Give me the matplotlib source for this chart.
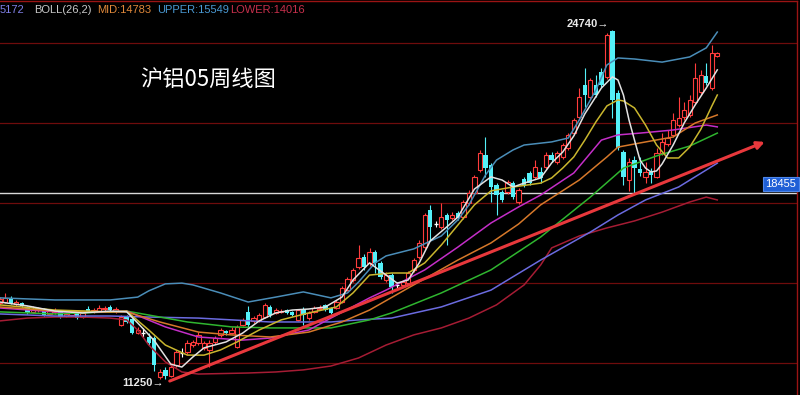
import matplotlib
matplotlib.use('Agg')
import matplotlib.pyplot as plt
import numpy as np

# weekly candles
opens = [14200, 14240, 14400, 14160, 14200, 14010, 13860, 13930, 13930, 13780,
         13860, 13860, 13700, 13740, 13820, 13660, 13970, 13860, 13890, 13970,
         14050, 13890, 13350, 13660, 13590, 13040, 13060, 12890, 12850, 11350,
         11620, 11380, 11810, 12290, 12310, 12580, 12660, 12470, 12390, 12700,
         12970, 13120, 13040, 12500, 13350, 13860, 13510, 13510, 13660, 14050,
         13820, 13860, 13930, 13860, 13550, 13970, 13620, 13860, 13970, 14130,
         14010, 14010, 14240, 14700, 15090, 15590, 15980, 15750, 16170, 15750,
         15090, 15280, 14880, 14900, 14970, 15480, 15980, 16360, 17790, 17250,
         17140, 17600, 17480, 17680, 17520, 18060, 18450, 19340, 19920, 19530,
         18760, 18490, 18490, 18830, 18100, 18990, 19220, 19070, 19260, 19450,
         19920, 19650, 19840, 20190, 20760, 21380, 22620, 22150, 22620, 23120,
         22930, 24700, 22310, 20030, 18950, 19720, 19380, 19070, 19260, 19070,
         19990, 20340, 20690, 21070, 21380, 21460, 21960, 22350, 22960, 22500,
         23740]
closes = [14360, 14400, 14200, 14240, 14090, 13820, 13970, 13970, 13740, 13890,
          13890, 13660, 13780, 13820, 13620, 13820, 13890, 13930, 14010, 14010,
          13930, 13970, 13660, 13470, 13040, 13160, 13060, 12660, 11810, 11540,
          11380, 11730, 12310, 12290, 12660, 12700, 12970, 12660, 12660, 12850,
          13160, 13040, 13160, 13280, 13550, 13350, 13620, 13740, 14130, 13740,
          13930, 13890, 13820, 13740, 13930, 13740, 13820, 14010, 14010, 13930,
          13820, 14240, 14780, 15130, 15480, 15940, 15590, 16170, 15750, 15210,
          15280, 14820, 14880, 15010, 15360, 15860, 16520, 17600, 17140, 17250,
          17520, 17410, 17600, 17480, 18100, 18450, 19070, 19990, 19410, 18680,
          18370, 18180, 18870, 18290, 18560, 18760, 18830, 19450, 19030, 19920,
          19720, 19990, 20300, 20690, 21270, 22150, 22230, 22810, 22230, 22620,
          24550, 22040, 20190, 19070, 19650, 19410, 19220, 19260, 19140, 19990,
          20420, 20570, 21270, 21340, 21650, 22040, 22890, 23000, 22690, 23850,
          23850]
highs = [14430, 14590, 14470, 14320, 14240, 14090, 14090, 14050, 14010, 13970,
         14010, 13890, 13860, 13890, 13860, 13890, 14090, 14010, 14130, 14090,
         14130, 14050, 13740, 13740, 13620, 13280, 13240, 13040, 12930, 11660,
         11730, 11810, 12390, 12470, 12770, 12770, 13080, 12740, 12770, 12930,
         13240, 13160, 13280, 13350, 13620, 14090, 13700, 13820, 14200, 14130,
         14010, 13970, 13970, 13890, 13970, 14050, 13890, 14090, 14130, 14160,
         14050, 14320, 14860, 15210, 15550, 16440, 16090, 16330, 16250, 15820,
         15400, 15360, 15010, 15090, 15440, 15940, 16630, 17680, 17990, 17370,
         18060, 17680, 17710, 17750, 18180, 18560, 19140, 20110, 20610, 19610,
         18830, 18560, 18950, 18910, 18640, 19070, 19300, 19720, 19450, 20030,
         20030, 20070, 20380, 20760, 21340, 22500, 23270, 22890, 23000, 23270,
         24620, 24740, 22420, 20110, 19800, 19880, 19840, 19650, 19410, 20190,
         20760, 20880, 21540, 22150, 21960, 22230, 23470, 23200, 23470, 24160,
         23890]
lows = [14130, 14200, 14160, 14090, 14050, 13780, 13820, 13860, 13700, 13740,
        13780, 13620, 13660, 13700, 13590, 13620, 13860, 13820, 13860, 13890,
        13890, 13820, 13310, 13430, 13010, 13010, 12890, 12580, 11580, 11270,
        11250, 11350, 11730, 12120, 12230, 12500, 12580, 12390, 11730, 12620,
        12890, 12970, 13010, 12470, 13310, 13280, 13430, 13470, 13620, 13660,
        13780, 13820, 13780, 13700, 13510, 13350, 13550, 13820, 13930, 13890,
        13780, 13970, 14200, 14670, 15010, 15510, 15480, 15630, 15360, 15130,
        15010, 14590, 14780, 14820, 14900, 15400, 15900, 16290, 16630, 17140,
        17060, 16440, 17410, 17410, 17440, 17990, 18370, 19260, 19070, 18100,
        17600, 18100, 18410, 18220, 18020, 18680, 18760, 18990, 18830, 19380,
        19650, 19570, 19760, 20110, 20690, 21300, 21770, 22080, 22150, 22540,
        22850, 21340, 20110, 18760, 18530, 18450, 19100, 18830, 18830, 19030,
        19920, 20260, 20610, 21000, 21270, 21380, 21880, 22230, 22620, 22420,
        23700]

# indicator lines, sampled at candle positions
ma5_i = [0, 5, 10, 15, 20, 23, 25, 28, 31, 33, 35, 37, 41, 44, 47, 50, 53, 56, 59, 62,
         64, 67, 70, 72, 74, 76, 78, 81, 83, 86, 89, 91, 93, 95, 98, 100, 102, 104, 106, 109,
         111, 112, 113, 114, 115, 116, 117, 118, 119, 120, 122, 124, 126, 128, 130]
ma5_v = [14240, 14090, 13890, 13820, 13890, 13860, 13430, 12750, 11840, 11730,
         12120, 12470, 12700, 13040, 13510, 13820, 13930, 13970, 14050, 14430,
         15090, 15750, 15280, 14970, 15090, 15750, 16600, 17140, 17520, 18600,
         19070, 18950, 18680, 18830, 19030, 19610, 20030, 20650, 21500, 22500,
         22930, 22810, 22230, 21270, 20490, 19720, 19410, 19260, 19300, 19570,
         20300, 21150, 21850, 22500, 23200]
ma10_i = [0, 10, 20, 23, 27, 30, 34, 37, 40, 43, 47, 51, 56, 61, 64, 67, 71, 74, 77, 80,
          83, 86, 89, 93, 98, 100, 102, 104, 106, 108, 110, 112, 113, 115, 117, 119, 121, 123,
          125, 127, 129, 130]
ma10_v = [14130, 13930, 13860, 13890, 13160, 12580, 12190, 12190, 12390, 12700,
          13160, 13550, 13820, 14050, 14590, 15280, 15360, 15360, 15750, 16440,
          17210, 17990, 18530, 18680, 18830, 19030, 19410, 19840, 20490, 21190,
          21810, 22040, 22000, 21730, 21070, 20300, 19800, 19800, 20220, 20900,
          21800, 22230]
mid_i = [0, 10, 20, 23, 29, 36, 42, 49, 56, 62, 67, 74, 83, 89, 94, 98, 105, 110, 112,
         116, 122, 126, 130]
mid_v = [14050, 13890, 13860, 13860, 13470, 13080, 12970, 12890, 13080, 13470,
         13930, 14780, 15860, 16520, 17250, 17990, 18950, 19840, 20220, 20380,
         20610, 21150, 21460]
ma30_i = [0, 10, 20, 23, 30, 36, 44, 49, 56, 60, 67, 70, 77, 83, 89, 94, 98, 104, 109,
          112, 116, 122, 128, 130]
ma30_v = [14010, 13860, 13860, 13890, 13280, 12890, 12770, 12850, 13160, 13620,
          14400, 14700, 15480, 16360, 17290, 17910, 18370, 19220, 20490, 20690,
          20760, 20880, 21070, 21000]
ma60_i = [0, 10, 20, 23, 34, 42, 49, 60, 67, 71, 80, 89, 98, 107, 113, 119, 125, 130]
ma60_v = [13860, 13780, 13860, 13890, 13470, 13280, 13240, 13240, 13550, 13820,
          14590, 15480, 16750, 18290, 19410, 19880, 20260, 20760]
ma120_i = [0, 10, 20, 27, 36, 49, 60, 65, 71, 80, 89, 98, 107, 112, 117, 123, 130]
ma120_v = [13780, 13700, 13700, 13660, 13620, 13470, 13470, 13550, 13620, 14050,
           14700, 15860, 16940, 17600, 18180, 18680, 19600]
upper_i = [0, 5, 10, 15, 20, 25, 27, 30, 33, 35, 40, 45, 50, 55, 60, 63, 65, 68, 70, 75,
           80, 83, 85, 88, 90, 93, 95, 100, 103, 105, 108, 110, 112, 115, 120, 125, 128, 130]
upper_v = [14400, 14360, 14320, 14320, 14320, 14430, 14670, 14940, 14970, 14900,
           14590, 14240, 14430, 14630, 14400, 14590, 15010, 15750, 16020, 16290,
           16790, 17410, 17990, 19140, 19720, 20110, 20300, 20420, 20570, 21270,
           22420, 23390, 23660, 23620, 23500, 23700, 24050, 24660]
lower_i = [0, 5, 10, 15, 20, 23, 25, 27, 30, 33, 36, 45, 50, 55, 60, 65, 70, 75, 80, 85,
           90, 95, 98, 100, 105, 110, 115, 120, 125, 128, 130]
lower_v = [13510, 13620, 13660, 13660, 13620, 13550, 13160, 12580, 11930, 11540,
           11460, 11500, 11540, 11620, 11770, 12080, 12580, 12970, 13240, 13620,
           14130, 14900, 15670, 16330, 16790, 17100, 17370, 17710, 18100, 18290,
           18180]

grid_levels = [24240, 21150, 18060, 14970, 11890]
last_price = 18455
trend_x = [30.8, 138.6]
trend_y = [11190, 20420]

RED = '#ff3c3c'
CYAN = '#54f0f8'

fig = plt.figure(figsize=(8, 3.95), dpi=100, facecolor='black')
ax = fig.add_axes([0, 0, 797 / 800, 394 / 395])
ax.set_facecolor('black')

o = np.array(opens)
c = np.array(closes)
h = np.array(highs)
l = np.array(lows)
idx = np.arange(len(o))
up = c > o
dn = c < o
fl = c == o

for lv in grid_levels:
    ax.axhline(lv, color='#6e0c0c', lw=0.9, zorder=1)
ax.axhline(last_price, color='#d8d8d8', lw=1.0, zorder=1)

ax.vlines(idx[up], l[up], h[up], color=RED, lw=0.8, zorder=2)
ax.bar(idx[up], c[up] - o[up], bottom=o[up], width=0.78, facecolor='black',
       edgecolor=RED, lw=0.8, zorder=3)
ax.vlines(idx[dn], l[dn], h[dn], color=CYAN, lw=0.8, zorder=2)
ax.bar(idx[dn], o[dn] - c[dn], bottom=c[dn], width=0.8, color=CYAN, lw=0, zorder=3)
ax.vlines(idx[fl], l[fl], h[fl], color='white', lw=0.8, zorder=3)
ax.hlines(c[fl], idx[fl] - 0.4, idx[fl] + 0.4, color='white', lw=1.0, zorder=3)

lines = [(upper_i, upper_v, '#4a8db8'), (lower_i, lower_v, '#a51c34'),
         (ma120_i, ma120_v, '#6b6be0'), (ma60_i, ma60_v, '#2fb52f'),
         (ma30_i, ma30_v, '#c42ec8'), (mid_i, mid_v, '#d6782a'),
         (ma10_i, ma10_v, '#c9b62e'), (ma5_i, ma5_v, '#e2e2e2')]
for xs, ys, col in lines:
    ax.plot(xs, ys, color=col, lw=1.1, zorder=4)

ax.annotate('', xy=(trend_x[1], trend_y[1]), xytext=(trend_x[0], trend_y[0]),
            arrowprops=dict(arrowstyle='-|>', color='#e8383c', lw=2.2,
                            mutation_scale=11, shrinkA=0, shrinkB=0), zorder=6)

hi_i = int(np.argmax(h))
lo_i = int(np.argmin(l))
ax.text(hi_i - 0.7, h[hi_i] + 230, '%d→' % h[hi_i], color='#e8e8e8', fontsize=8,
        fontweight='bold', family='Liberation Sans', ha='right', va='center', zorder=7)
ax.text(lo_i - 0.3, l[lo_i] - 140, '%d→' % l[lo_i], color='#e8e8e8', fontsize=8,
        fontweight='bold', family='Liberation Sans', ha='right', va='center', zorder=7)

ax.set_xlim(0.05, 144.44)
ax.set_ylim(10651, 25859)
ax.set_xticks([])
ax.set_yticks([])
for side in ['left', 'bottom']:
    ax.spines[side].set_visible(False)
for side in ['top', 'right']:
    ax.spines[side].set_color('#9a1414')
    ax.spines[side].set_linewidth(1.0)

# header legend
ty = 1 - 10 / 395
fig.text(0 / 800, ty, '5172', color='#7f7fe6', fontsize=8, family='Liberation Sans', va='center')
fig.text(34 / 800, ty, 'BOLL(26,2)', color='#c8c8c8', fontsize=8, family='Liberation Sans', va='center')
fig.text(97 / 800, ty, 'MID:14783', color='#e0883a', fontsize=8, family='Liberation Sans', va='center')
fig.text(157 / 800, ty, 'UPPER:15549', color='#4a9ad4', fontsize=8, family='Liberation Sans', va='center')
fig.text(230 / 800, ty, 'LOWER:14016', color='#c8304c', fontsize=8, family='Liberation Sans', va='center')

fig.text(140 / 800, 1 - 80 / 395, '沪铝05周线图', color='white', fontsize=16,
         family=['Noto Sans CJK SC', 'DejaVu Sans'], va='center', ha='left')

fig.text(781 / 800, 1 - 184 / 395, '%d' % last_price, color='white', fontsize=8,
         family='Liberation Sans', ha='center', va='center',
         bbox=dict(boxstyle='square,pad=0.2', fc='#1f5fd6', ec='#4d86ea', lw=0.8))

fig.savefig('out.png', dpi=100, facecolor='black')
